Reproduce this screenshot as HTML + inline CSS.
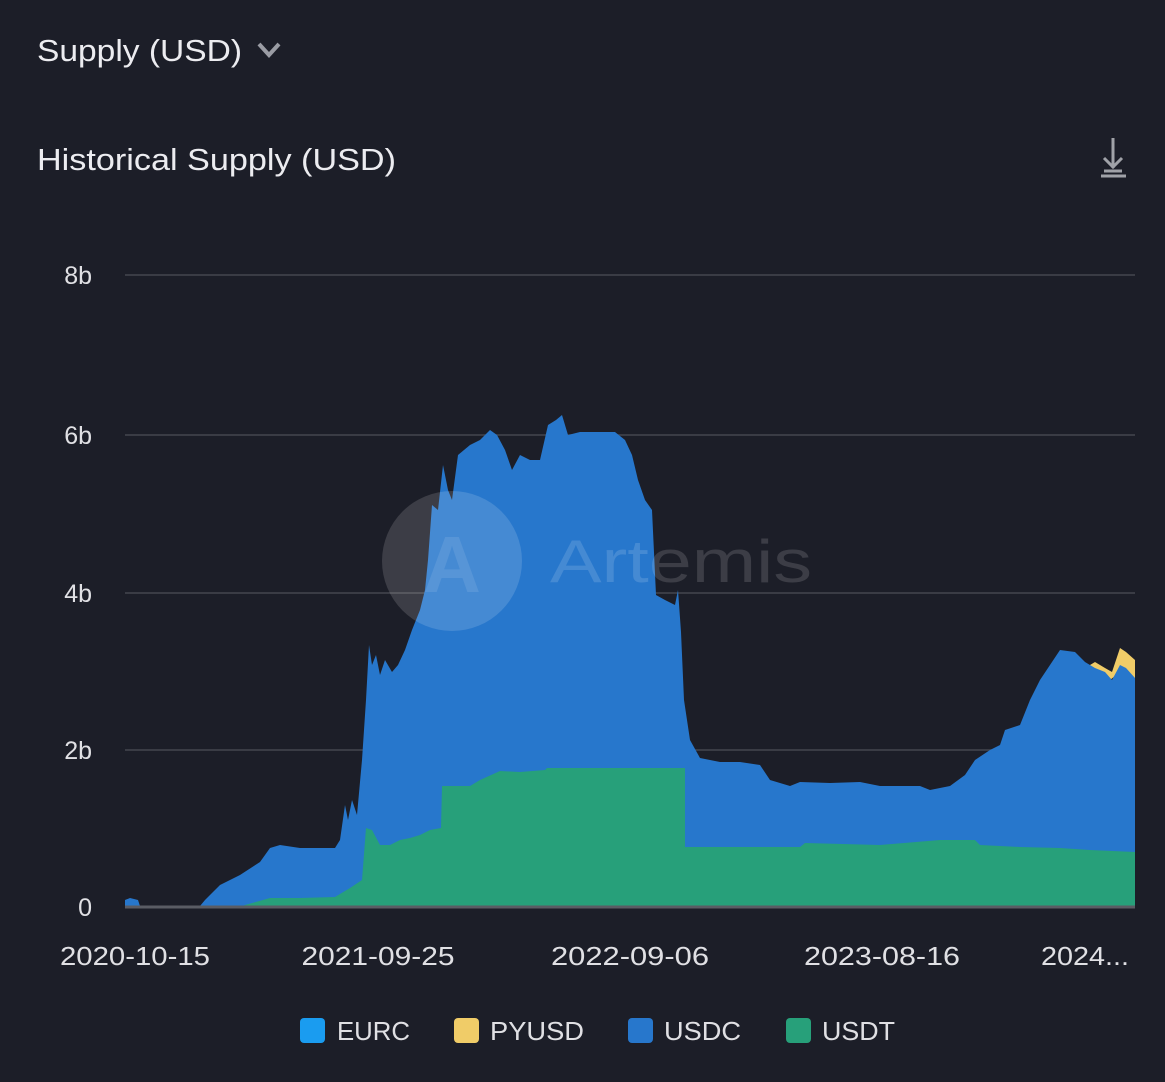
<!DOCTYPE html>
<html><head><meta charset="utf-8"><style>
html,body{margin:0;padding:0;background:#1c1e28;}
body{width:1165px;height:1077px;overflow:hidden;font-family:"Liberation Sans",sans-serif;}
</style></head><body>
<svg width="1165" height="1077" viewBox="0 0 1165 1077" xmlns="http://www.w3.org/2000/svg" font-family="Liberation Sans, sans-serif">
<rect width="1165" height="1077" fill="#1c1e28"/>
<text x="37" y="61" font-size="31" fill="#ececf0" textLength="205" lengthAdjust="spacingAndGlyphs">Supply (USD)</text>
<path d="M259 44 L269 55 L279 44" stroke="#9a9ca4" stroke-width="4" fill="none"/>
<text x="37" y="170" font-size="31" fill="#ececf0" textLength="359" lengthAdjust="spacingAndGlyphs">Historical Supply (USD)</text>
<g stroke="#a0a2a8" stroke-width="3" fill="none">
<line x1="1113" y1="138" x2="1113" y2="168"/><path d="M1104 158 L1113 167 L1122 158"/><line x1="1101" y1="176" x2="1126" y2="176"/><line x1="1104" y1="171" x2="1122" y2="171"/>
</g>
<g stroke="#44464f" stroke-width="1.5">
<line x1="125" y1="275" x2="1135" y2="275"/><line x1="125" y1="435" x2="1135" y2="435"/>
<line x1="125" y1="593" x2="1135" y2="593"/><line x1="125" y1="750" x2="1135" y2="750"/>
</g>
<g font-size="25" fill="#e0e0e4" text-anchor="end">
<text x="92" y="284">8b</text><text x="92" y="444">6b</text><text x="92" y="602">4b</text><text x="92" y="759">2b</text><text x="92" y="916">0</text>
</g>
<polygon fill="#f0cc68" points="1085,668 1095,662 1105,668 1112,672 1120,648 1126,652 1135,660 1135,680 1120,672 1110,680 1100,675 1090,670"/>
<polygon fill="#2777cc" points="125,907 125,900 130,898 138,900 140,906 200,906 205,900 220,885 240,875 260,862 270,848 280,845 300,848 320,848 335,848 340,840 345,805 348,820 352,800 357,815 362,760 366,700 369,645 372,665 376,655 380,675 385,660 392,672 398,665 405,650 412,630 420,610 425,590 428,560 432,505 438,510 443,465 448,490 452,500 458,455 470,445 480,440 490,430 497,435 505,450 512,470 520,455 530,460 540,460 548,425 556,420 562,415 568,435 580,432 600,432 615,432 625,440 632,455 638,480 645,500 652,510 656,595 665,600 675,605 678,590 681,632 684,700 690,740 700,758 720,762 740,762 760,765 770,780 790,786 800,782 830,783 860,782 880,786 920,786 930,790 950,786 965,775 975,760 990,750 1000,745 1005,730 1020,725 1030,700 1040,680 1050,665 1060,650 1075,652 1085,662 1095,668 1105,672 1112,680 1120,665 1126,668 1135,678 1135,907"/>
<polygon fill="#27a07a" points="240,907 245,905 270,898 300,898 335,897 350,888 362,880 366,828 372,830 380,845 390,845 400,840 410,838 420,835 430,830 441,828 442,786 470,786 480,780 500,771 520,772 545,770 547,768 685,768 685,847 800,847 805,843 880,845 940,840 975,840 980,845 1020,847 1060,848 1090,850 1135,852 1135,907"/>
<line x1="125" y1="907" x2="1135" y2="907" stroke="#5a5c64" stroke-width="3"/>
<circle cx="452" cy="561" r="70" fill="#ffffff" fill-opacity="0.14"/>
<text x="452" y="592" font-size="80" font-weight="bold" fill="#ffffff" fill-opacity="0.10" text-anchor="middle">A</text>
<text x="550" y="582" font-size="60" fill="#ffffff" fill-opacity="0.14" textLength="262" lengthAdjust="spacingAndGlyphs">Artemis</text>
<g font-size="26" fill="#e0e0e4" text-anchor="middle">
<text x="135" y="965" textLength="150" lengthAdjust="spacingAndGlyphs">2020-10-15</text><text x="378" y="965" textLength="153" lengthAdjust="spacingAndGlyphs">2021-09-25</text><text x="630" y="965" textLength="158" lengthAdjust="spacingAndGlyphs">2022-09-06</text><text x="882" y="965" textLength="156" lengthAdjust="spacingAndGlyphs">2023-08-16</text><text x="1085" y="965" textLength="88" lengthAdjust="spacingAndGlyphs">2024...</text>
</g>
<g font-size="26" fill="#e0e0e4">
<rect x="300" y="1018" width="25" height="25" rx="4" fill="#1a9cf0"/><text x="337" y="1040" textLength="73" lengthAdjust="spacingAndGlyphs">EURC</text>
<rect x="454" y="1018" width="25" height="25" rx="4" fill="#f0cc68"/><text x="490" y="1040" textLength="94" lengthAdjust="spacingAndGlyphs">PYUSD</text>
<rect x="628" y="1018" width="25" height="25" rx="4" fill="#2777cc"/><text x="664" y="1040" textLength="77" lengthAdjust="spacingAndGlyphs">USDC</text>
<rect x="786" y="1018" width="25" height="25" rx="4" fill="#27a07a"/><text x="822" y="1040" textLength="73" lengthAdjust="spacingAndGlyphs">USDT</text>
</g>
</svg>
</body></html>
